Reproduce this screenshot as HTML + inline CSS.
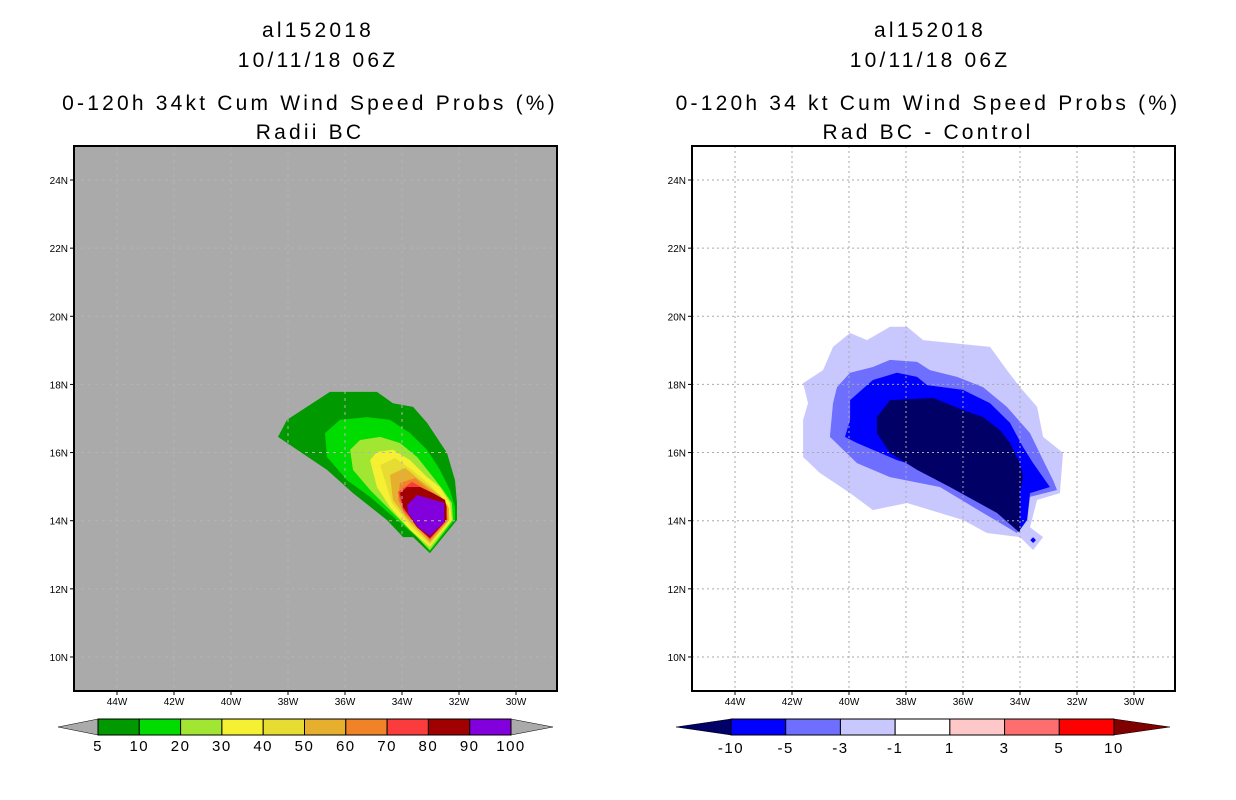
<!DOCTYPE html>
<html><head><meta charset="utf-8">
<style>
html,body{margin:0;padding:0;background:#fff;}
svg{display:block;font-family:"Liberation Sans",sans-serif;}
</style></head>
<body>
<svg id="root" width="1236" height="800" viewBox="0 0 1236 800">
  <g font-size="21" letter-spacing="3.2" text-anchor="middle" fill="#000">
    <text x="318" y="37">al152018</text>
    <text x="318" y="67">10/11/18 06Z</text>
    <text x="310" y="110">0-120h 34kt Cum Wind Speed Probs (%)</text>
    <text x="310" y="139">Radii BC</text>
  </g>
  <g font-size="21" letter-spacing="3.2" text-anchor="middle" fill="#000">
    <text x="930" y="37">al152018</text>
    <text x="930" y="67">10/11/18 06Z</text>
    <text x="928" y="110">0-120h 34 kt Cum Wind Speed Probs (%)</text>
    <text x="928" y="139">Rad BC - Control</text>
  </g>
  <g id="leftPlot"></g>
  <g id="rightPlot"></g>
  <g id="leftBar"></g>
  <g id="rightBar"></g>
</svg>
<script>
const lonTicks = [-44,-42,-40,-38,-36,-34,-32,-30];
const latTicks = [10,12,14,16,18,20,22,24];
const leftLevels = ["5","10","20","30","40","50","60","70","80","90","100"];
const leftColors = ["#009900","#00dc00","#a0e632","#f5f032","#e6dc32","#e6af2d","#f08228","#fa3c3c","#a00000","#8200dc"];
const rightLevels = ["-10","-5","-3","-1","1","3","5","10"];
const rightColors = ["#000066","#0000ff","#6e6eff","#c8c8ff","#ffffff","#ffc8c8","#ff6e6e","#ff0000","#800000"];

// contour polygons [lon,lat,...]
const L5 = [-38.35,16.46,-38.04,16.96,-36.53,17.78,-34.88,17.78,-34.32,17.45,-33.61,17.34,-33.12,16.87,-32.42,15.99,-32.14,15.19,-32.07,14.52,-32.07,14.02,-33.02,13.05,-33.61,13.52,-33.96,13.52,-34.53,14.02,-35.72,14.81,-36.63,15.49,-37.68,16.08];
const L10 = [-36.70,16.57,-36.18,16.96,-35.23,17.04,-34.42,16.96,-33.72,16.57,-33.12,16.08,-32.67,15.49,-32.32,14.90,-32.14,14.40,-32.14,14.02,-33.02,13.10,-33.47,13.52,-34.18,14.02,-35.12,14.70,-35.93,15.19,-36.63,15.87];
const L20 = [-35.82,16.08,-35.47,16.37,-34.77,16.46,-34.07,16.28,-33.47,15.87,-32.91,15.28,-32.56,14.90,-32.25,14.52,-32.21,14.02,-33.02,13.14,-33.61,13.64,-34.32,14.23,-35.12,14.90,-35.72,15.49];
const L30 = [-35.12,15.78,-34.88,16.02,-34.32,16.08,-33.72,15.78,-33.12,15.28,-32.67,14.99,-32.32,14.52,-32.25,14.02,-33.02,13.23,-33.72,13.73,-34.42,14.40,-34.88,14.99];
const L40 = [-34.77,15.63,-34.25,15.84,-33.65,15.49,-33.02,15.05,-32.39,14.46,-32.32,14.02,-33.02,13.29,-33.72,13.87,-34.35,14.52];
const L50 = [-34.42,15.34,-33.89,15.55,-33.37,15.19,-32.67,14.75,-32.35,14.37,-32.35,14.02,-33.02,13.35,-33.79,14.02,-34.32,14.61];
const L60 = [-34.07,15.11,-33.54,15.25,-32.95,14.84,-32.42,14.46,-32.39,14.02,-33.02,13.41,-33.89,14.17,-34.14,14.61];
const L70 = [-34.14,14.84,-33.65,15.14,-33.02,14.84,-32.46,14.46,-32.42,14.02,-33.02,13.45,-33.96,14.31];
const L80 = [-34.07,14.81,-33.82,14.99,-33.37,14.99,-32.91,14.81,-32.49,14.61,-32.44,14.40,-32.44,14.02,-33.02,13.49,-33.47,13.81,-33.96,14.40];
const L90 = [-33.82,14.46,-33.47,14.75,-33.12,14.67,-32.52,14.52,-32.52,13.96,-33.02,13.55,-33.44,13.81,-33.79,14.23];
const leftContours = [L5,L10,L20,L30,L40,L50,L60,L70,L80,L90];

const R1 = [-41.61,18.04,-40.91,18.42,-40.56,19.10,-39.96,19.51,-39.37,19.30,-38.56,19.69,-37.96,19.69,-37.40,19.30,-35.05,19.10,-34.46,18.42,-34.00,17.92,-33.40,17.34,-33.19,16.46,-32.49,15.99,-32.60,14.81,-33.40,14.61,-33.65,13.81,-33.19,13.52,-33.54,13.14,-34.00,13.52,-35.16,13.64,-36.00,14.02,-37.96,14.52,-39.16,14.31,-39.96,14.81,-41.02,15.40,-41.61,15.87,-41.61,16.96,-41.44,17.45];
const R3 = [-40.42,17.92,-39.96,18.34,-39.16,18.51,-38.56,18.72,-37.61,18.66,-37.16,18.42,-36.21,18.22,-35.30,17.92,-34.46,17.34,-33.65,16.57,-33.19,15.78,-32.84,15.19,-32.70,14.90,-33.65,14.70,-33.75,14.02,-34.11,13.64,-35.30,14.23,-36.81,14.99,-38.56,15.28,-39.72,15.69,-40.67,16.46,-40.56,17.45];
const R5 = [-39.96,17.54,-39.16,18.13,-38.32,18.34,-37.61,18.22,-37.26,17.98,-36.00,17.84,-35.05,17.45,-34.35,16.87,-33.89,16.16,-33.54,15.69,-32.95,14.99,-33.65,14.81,-33.75,14.02,-34.00,13.73,-35.05,14.40,-36.81,15.40,-38.32,15.78,-39.72,16.28,-40.14,16.46,-39.96,16.96];
const R10 = [-39.02,17.04,-38.56,17.54,-37.05,17.60,-36.00,17.25,-35.30,17.04,-34.70,16.66,-34.35,16.28,-34.00,15.69,-33.89,15.28,-34.00,14.81,-34.00,14.02,-34.00,13.64,-34.81,14.23,-36.46,14.99,-37.61,15.49,-38.56,15.99,-39.02,16.57];
const RDot = [-33.54,13.43];
const rightContours = [R1,R3,R5,R10];
const rightContourColors = ["#c8c8ff","#6e6eff","#0000ff","#000066"];

const NS="http://www.w3.org/2000/svg";
function mk(tag,attrs,parent){const e=document.createElementNS(NS,tag);for(const k in attrs)e.setAttribute(k,attrs[k]);parent.appendChild(e);return e;}

function drawPanel(g, x0, bg, gridColor, dash, contours, colors, names){
  const frame={x:x0,y:146,w:483,h:545};
  const xs = lon => x0+43 + (lon+44)*28.5;
  const ys = lat => 180 + (24-lat)*34.07;
  const clip = mk('clipPath',{id:'clip'+x0},g);
  mk('rect',{x:frame.x,y:frame.y,width:frame.w,height:frame.h},clip);
  const bgr = mk('rect',{x:frame.x,y:frame.y,width:frame.w,height:frame.h,fill:bg},g);
  
  
  const cg = mk('g',{'clip-path':'url(#clip'+x0+')'},g);
  contours.forEach((c,i)=>{
    const pts=[];for(let k=0;k<c.length;k+=2)pts.push(xs(c[k]).toFixed(1)+','+ys(c[k+1]).toFixed(1));
    const p=mk('polygon',{points:pts.join(' '),fill:colors[i]},cg);
    
    
  });
  const gg = mk('g',{stroke:gridColor,'stroke-width':1,'stroke-dasharray':dash},cg);
  
  
  lonTicks.forEach(l=>mk('line',{x1:xs(l),x2:xs(l),y1:frame.y,y2:frame.y+frame.h},gg));
  latTicks.forEach(l=>mk('line',{x1:frame.x,x2:frame.x+frame.w,y1:ys(l),y2:ys(l)},gg));
  const fr=mk('rect',{x:frame.x,y:frame.y,width:frame.w,height:frame.h,fill:'none',stroke:'#000','stroke-width':2},g);
  
  
  lonTicks.forEach(l=>{
    mk('line',{x1:xs(l),x2:xs(l),y1:frame.y+frame.h,y2:frame.y+frame.h+4,stroke:'#000'},g);
    const t=mk('text',{x:xs(l),y:frame.y+frame.h+14,'font-size':10,'text-anchor':'middle'},g);
    t.textContent=Math.abs(l)+'W';
    
    
  });
  latTicks.forEach(l=>{
    mk('line',{x1:frame.x-4,x2:frame.x,y1:ys(l),y2:ys(l),stroke:'#000'},g);
    const t=mk('text',{x:frame.x-6,y:ys(l)+4,'font-size':10,'text-anchor':'end'},g);
    t.textContent=l+'N';
    
    
  });
  return {xs,ys};
}

const lp = drawPanel(document.getElementById('leftPlot'),74,'#aaaaaa','#b4b4b4','3,4',leftContours,leftColors,
  ["contour-5","contour-10","contour-20","contour-30","contour-40","contour-50","contour-60","contour-70","contour-80","contour-90"]);
const rp = drawPanel(document.getElementById('rightPlot'),692,'#ffffff','#aaaaaa','2,3',rightContours,rightContourColors,
  ["contour-neg1","contour-neg3","contour-neg5","contour-neg10"]);
const dot = mk('rect',{x:rp.xs(RDot[0])-2,y:rp.ys(RDot[1])-2,width:4,height:4,fill:'#0000ff',transform:'rotate(45 '+rp.xs(RDot[0])+' '+rp.ys(RDot[1])+')'},document.getElementById('rightPlot'));



function drawBar(g, left, right, tl, tr, y, h, colors, labels, endColors, ly){
  const n = colors.length;
  const w = (right-left)/n;
  const a=mk('polygon',{points:`${tl},${y+h/2} ${left},${y} ${left},${y+h}`,fill:endColors[0],stroke:'#000','stroke-width':0.5},g);
  
  
  const b=mk('polygon',{points:`${tr},${y+h/2} ${right},${y} ${right},${y+h}`,fill:endColors[1],stroke:'#000','stroke-width':0.5},g);
  
  
  colors.forEach((c,i)=>{
    const r=mk('rect',{x:left+i*w,y:y,width:w,height:h,fill:c,stroke:'#000','stroke-width':1},g);
    
    
  });
  labels.forEach((l,i)=>{
    const t=mk('text',{x:left+i*w,y:ly,'font-size':15,'letter-spacing':1.5,'text-anchor':'middle'},g);
    t.textContent=l;
    
    
  });
}
drawBar(document.getElementById('leftBar'),98,511,58,553,719,16,leftColors,leftLevels,['#aaaaaa','#aaaaaa'],751);
drawBar(document.getElementById('rightBar'),731,1114,676,1170,719,16,rightColors.slice(1,8),rightLevels,[rightColors[0],rightColors[8]],753);
</script>
</body></html>
